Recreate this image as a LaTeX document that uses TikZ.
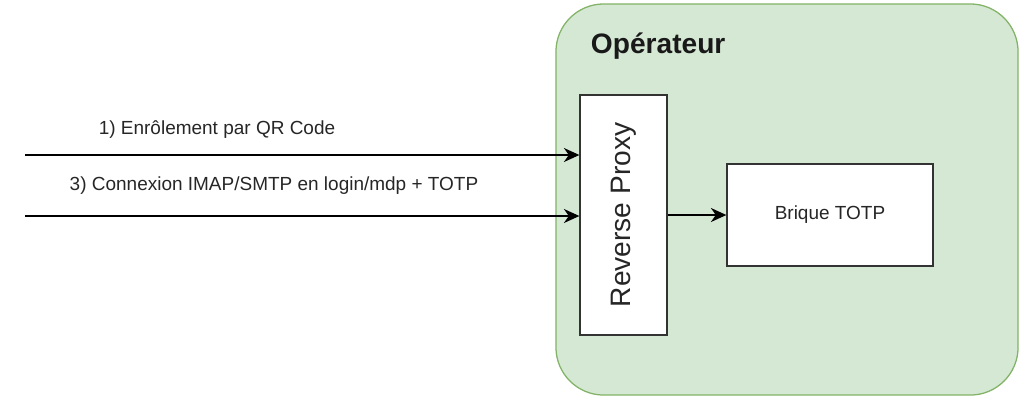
\documentclass[tikz,border=0pt]{standalone}
\usepackage{fontspec}
\setmainfont{Liberation Sans}
\usetikzlibrary{arrows.meta}
\definecolor{opfill}{HTML}{D5E8D4}
\definecolor{opdraw}{HTML}{82B366}
\definecolor{boxdraw}{HTML}{333333}

\begin{document}
\begin{tikzpicture}[
  x=0.025cm, y=-0.025cm,
  zone/.style={rectangle, draw=opdraw, fill=opfill, line width=0.9pt, rounded corners=34pt,
    minimum width=11.55cm, minimum height=9.775cm, inner sep=0pt},
  box/.style={rectangle, draw=boxdraw, fill=white, line width=0.9pt, inner sep=0pt},
  lbl/.style={font=\fontsize{13.5}{16}\selectfont, text=black!85},
  arr/.style={-{Stealth[length=11pt, width=10pt, inset=3.5pt]}, line width=0.9pt, black},
]
  \useasboundingbox (0,0) rectangle (1025,397);
  % operator zone
  \node[zone] (operateur) at (787,199.5) {};
  \node[anchor=west, font=\fontsize{20}{24}\selectfont\bfseries, text=black!90] (optitle) at (586,46) {Opérateur};
  % components
  \node[box, minimum width=2.175cm, minimum height=6cm] (proxy) at (623.5,215) {};
  \node[rotate=90, font=\fontsize{20}{24}\selectfont, text=black!85] (proxytxt) at (proxy.center) {Reverse Proxy};
  \node[box, minimum width=5.15cm, minimum height=2.55cm, lbl] (brique) at (830,215) {Brique TOTP};
  % incoming flows
  \coordinate (src1) at (25,155);
  \coordinate (src2) at (25,216);
  \draw[arr] (src1) -- (src1 -| proxy.west);
  \draw[arr] (src2) -- (src2 -| proxy.west);
  \node[lbl] (lbl1) at (217,130) {1) Enrôlement par QR Code};
  \node[lbl] (lbl2) at (274,186) {3) Connexion IMAP/SMTP en login/mdp + TOTP};
  \draw[arr] (proxy.east) -- (brique.west);
\end{tikzpicture}
\end{document}
